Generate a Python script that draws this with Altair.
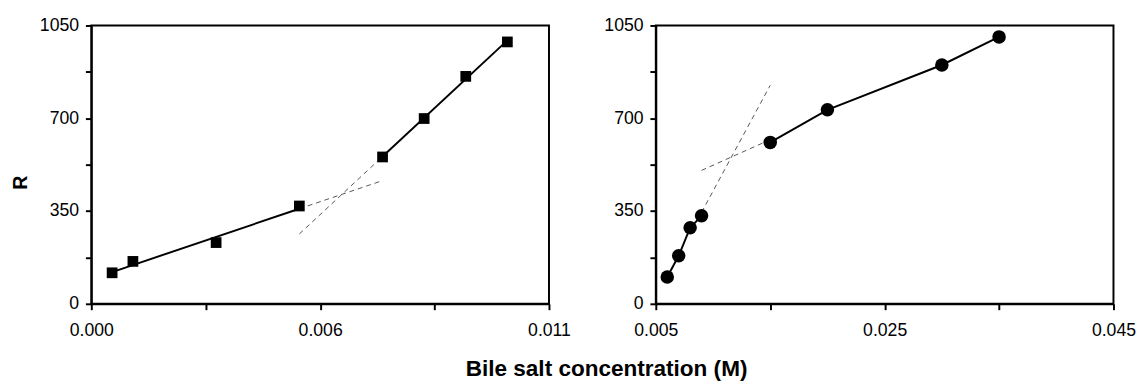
import altair as alt
import pandas as pd

# ---- data ----
left_x = [0.0005, 0.001, 0.003, 0.005, 0.007, 0.008, 0.009, 0.010]
left_y = [117, 160, 231, 369, 554, 699, 858, 988]
left_seg = ["low", "low", "low", "low", "high", "high", "high", "high"]

right_x = [0.006, 0.007, 0.008, 0.009, 0.015, 0.020, 0.030, 0.035]
right_y = [101, 181, 287, 332, 609, 732, 901, 1007]
right_seg = ["low", "low", "low", "low", "high", "high", "high", "high"]

y_ticks = [0, 175, 350, 525, 700, 875, 1050]
y_labels = ["0", "", "350", "", "700", "", "1050"]
left_xticks = [0, 0.00275, 0.0055, 0.00825, 0.011]
left_xlabels = ["0.000", "", "0.006", "", "0.011"]
right_xticks = [0.005, 0.015, 0.025, 0.035, 0.045]
right_xlabels = ["0.005", "", "0.025", "", "0.045"]

left_extrap = [0.005, 0.007]
right_extrap = [0.009, 0.015]

FONT = "Liberation Sans"


def label_expr(vals, labels):
    v = ",".join(repr(x) for x in vals)
    l = ",".join("'" + s + "'" for s in labels)
    return f"[{l}][indexof([{v}], datum.value)]"


def axis(vals, labels, **kw):
    return alt.Axis(
        values=vals, labelExpr=label_expr(vals, labels), grid=False,
        domainColor="black", domainWidth=2, tickColor="black", tickWidth=2,
        tickSize=6, labelFont=FONT, labelFontSize=18, labelColor="black",
        labelFlush=False, labelOverlap=False, **kw)


left_df = pd.DataFrame({"x": left_x, "y": left_y, "seg": left_seg})
right_df = pd.DataFrame({"x": right_x, "y": right_y, "seg": right_seg})

W, H = 467, 284

# ---- left panel ----
lx = alt.X("x:Q", scale=alt.Scale(domain=[0, 0.011], nice=False, zero=False),
           axis=axis(left_xticks, left_xlabels, labelPadding=12), title=None)
ly = alt.Y("y:Q", scale=alt.Scale(domain=[0, 1050], nice=False, zero=False),
           axis=axis(y_ticks, y_labels, labelPadding=7, titleFont=FONT,
                     titleFontSize=20, titleFontWeight="bold", titleColor="black",
                     titleX=-62, titleY=160),
           title="R")
lbase = alt.Chart(left_df)
l_solid = lbase.transform_regression("x", "y", groupby=["seg"]).mark_line(
    color="black", strokeWidth=2).encode(x=lx, y=ly, detail="seg:N")
l_dash = lbase.transform_regression("x", "y", groupby=["seg"], extent=left_extrap).mark_line(
    color="#555555", strokeWidth=1, strokeDash=[5, 4]).encode(x=lx, y=ly, detail="seg:N")
l_pts = lbase.mark_point(shape="square", filled=True, size=120, color="black",
                         opacity=1).encode(x=lx, y=ly)
left = alt.layer(l_dash, l_solid, l_pts).properties(width=W, height=H)

# ---- right panel ----
rx = alt.X("x:Q", scale=alt.Scale(domain=[0.005, 0.045], nice=False, zero=False),
           axis=axis(right_xticks, right_xlabels, labelPadding=12), title=None)
ry = alt.Y("y:Q", scale=alt.Scale(domain=[0, 1050], nice=False, zero=False),
           axis=axis(y_ticks, y_labels, labelPadding=7), title=None)
rbase = alt.Chart(right_df)
r_solid = rbase.mark_line(color="black", strokeWidth=2).encode(
    x=rx, y=ry, detail="seg:N")
r_dash = rbase.transform_regression("x", "y", groupby=["seg"], extent=right_extrap).mark_line(
    color="#555555", strokeWidth=1, strokeDash=[5, 4]).encode(x=rx, y=ry, detail="seg:N")
r_pts = rbase.mark_point(shape="circle", filled=True, size=190, color="black",
                         opacity=1).encode(x=rx, y=ry)
right = alt.layer(r_dash, r_solid, r_pts).properties(width=W, height=H)

chart = alt.hconcat(left, right, spacing=31).properties(
    title=alt.TitleParams("Bile salt concentration (M)", orient="bottom",
                          anchor="middle", font=FONT, fontSize=23,
                          fontWeight="bold", color="black", offset=19, dx=34),
    padding={"left": 2, "top": 4, "right": 0, "bottom": 0},
).configure_view(stroke="black", strokeWidth=2)

chart.save("out.html", embed_options={"renderer": "svg", "actions": False})
